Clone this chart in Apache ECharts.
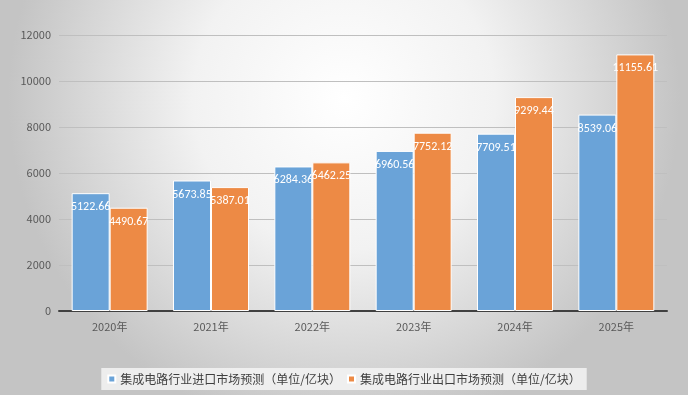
<!DOCTYPE html>
<html><head><meta charset="utf-8">
<script src="https://cdn.jsdelivr.net/npm/echarts@6/dist/echarts.min.js"></script>
<style>html,body{margin:0;padding:0;}#c{width:688px;height:395px;}</style>
</head><body><div id="c"></div>
<script>
const categories = ['2020年','2021年','2022年','2023年','2024年','2025年'];
const importVals = [5122.66, 5673.85, 6284.36, 6960.56, 7709.51, 8539.06];
const exportVals = [4490.67, 5387.01, 6462.25, 7752.12, 9299.44, 11155.61];
const seriesNames = ['集成电路行业进口市场预测（单位/亿块）','集成电路行业出口市场预测（单位/亿块）'];
const yTicks = [0, 2000, 4000, 6000, 8000, 10000, 12000];

const chart = echarts.init(document.getElementById('c'));
const font = '"Microsoft YaHei","Noto Sans CJK SC",sans-serif';
const lbl = {show:true, position:'insideTop', distance:8, color:'#fff', fontSize:12, fontFamily:'Calibri,"Liberation Sans",sans-serif'};
chart.setOption({
  backgroundColor: {type:'radial', x:0.5, y:0.25, r:0.85, colorStops:[{offset:0,color:'#ffffff'},{offset:0.45,color:'#f2f2f2'},{offset:1,color:'#c4c4c4'}]},
  animation:false,
  textStyle:{fontFamily:font},
  grid:{left:59, right:21, top:35, bottom:84, containLabel:false},
  legend:{bottom:5, left:'center', itemWidth:7, itemHeight:7, icon:'rect', itemGap:6,
    backgroundColor:'rgba(242,242,242,0.9)', padding:[5,6,5,6],
    textStyle:{color:'#404040', fontSize:12, fontFamily:font}, data:seriesNames},
  xAxis:{type:'category', data:categories,
    axisLine:{lineStyle:{color:'#404040', width:2}}, axisTick:{show:false},
    axisLabel:{color:'#595959', fontSize:11, margin:10}},
  yAxis:{type:'value', min:yTicks[0], max:yTicks[yTicks.length-1], interval:2000,
    axisLine:{show:false}, axisTick:{show:false},
    axisLabel:{color:'#595959', fontSize:11, margin:8, formatter:function(v){return String(v);}},
    splitLine:{lineStyle:{color:'#bfbfbf', width:1}}},
  series:[
    {name:seriesNames[0], type:'bar', data:importVals, barGap:'0%', barCategoryGap:'25%',
     itemStyle:{color:'#6aa3d8', borderColor:'#ffffff', borderWidth:1}, label:lbl},
    {name:seriesNames[1], type:'bar', data:exportVals,
     itemStyle:{color:'#ed8a45', borderColor:'#ffffff', borderWidth:1}, label:lbl}
  ]
});
</script></body></html>
